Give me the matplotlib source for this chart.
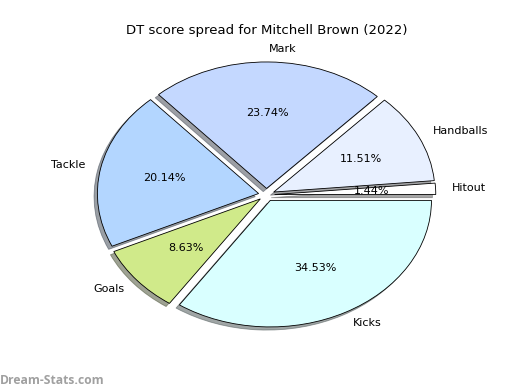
import matplotlib
matplotlib.use("Agg")
import matplotlib.pyplot as plt

# DT points by stat type (percentages of total 139)
labels = ["Kicks", "Goals", "Tackle", "Mark", "Handballs", "Hitout"]
points = [48, 12, 28, 33, 16, 2]
colors = ["#d9ffff", "#d0ea8a", "#b3d6ff", "#c4d8ff", "#e8f0ff", "#ffffff"]
explode = [0.05, 0.05, 0.05, 0.05, 0.05, 0.05]

fig = plt.figure(figsize=(5.2, 3.9), dpi=100)
ax = fig.add_axes([0.125, 0.095, 0.775, 0.811])
ax.pie(points, labels=labels, colors=colors, explode=explode,
       autopct="%1.2f%%", startangle=0, counterclock=False,
       shadow={"ox": -0.015, "oy": -0.018},
       wedgeprops={"edgecolor": "black", "linewidth": 0.6},
       textprops={"fontsize": 8})
ax.set_aspect("auto")
fig.text(0.5125, 0.923, "DT score spread for Mitchell Brown (2022)",
         fontsize=9.5, ha="center", va="center")

# watermark
fig.text(0.0, 0.025, "Dream-Stats.com", color="#a0a0a0", fontsize=8.7,
         fontweight="bold", family=["Open Sans", "DejaVu Sans"],
         va="center")

plt.savefig("out.png", dpi=100)
plt.close()
